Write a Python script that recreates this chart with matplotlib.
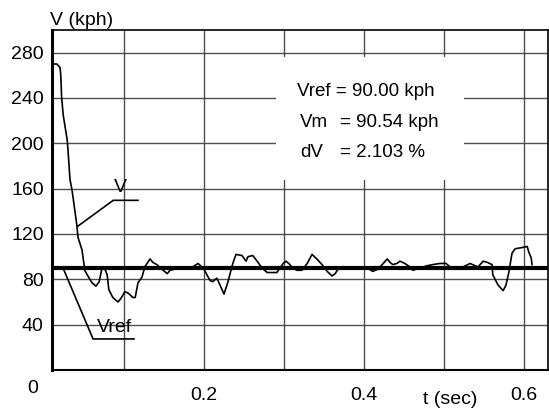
import matplotlib

matplotlib.use("Agg")
import matplotlib.pyplot as plt
from matplotlib.patches import Rectangle

plt.rcParams["font.family"] = ["Liberation Sans", "DejaVu Sans"]

# speed response V (kph) over time t (sec)
t = [0.010, 0.016, 0.020, 0.021, 0.022, 0.024, 0.029, 0.030, 0.0325, 0.035,
     0.041, 0.0425, 0.0475, 0.051, 0.054, 0.060, 0.065, 0.069, 0.0725, 0.075,
     0.079, 0.081, 0.086, 0.0925, 0.096, 0.101, 0.105, 0.111, 0.114, 0.1175,
     0.1225, 0.126, 0.1325, 0.136, 0.141, 0.149, 0.154, 0.1575, 0.170, 0.179,
     0.186, 0.1925, 0.199, 0.2075, 0.211, 0.216, 0.220, 0.225, 0.230, 0.236,
     0.240, 0.2475, 0.2525, 0.255, 0.261, 0.2675, 0.2725, 0.279, 0.291, 0.295,
     0.299, 0.3025, 0.306, 0.311, 0.316, 0.3225, 0.329, 0.335, 0.341, 0.3475,
     0.354, 0.360, 0.364, 0.3675, 0.379, 0.386, 0.395, 0.404, 0.411, 0.4175,
     0.424, 0.429, 0.4325, 0.436, 0.441, 0.445, 0.451, 0.4575, 0.461, 0.470,
     0.479, 0.486, 0.495, 0.5025, 0.5075, 0.516, 0.524, 0.5325, 0.539, 0.5425,
     0.549, 0.554, 0.560, 0.561, 0.5675, 0.574, 0.5775, 0.581, 0.585, 0.589,
     0.5975, 0.604, 0.606, 0.609, 0.610]
v = [270, 270, 267, 260, 241, 225, 203, 194, 168, 159,
     128, 117, 106, 88, 84, 77, 74, 78, 90, 91,
     84, 71, 64, 60, 63, 69, 68, 64, 64, 77,
     82, 91, 98, 95, 93, 88, 85, 88, 90, 90,
     91, 94, 90, 79, 78, 81, 75, 67, 78, 94,
     102, 101, 96, 100, 101, 95, 90, 86, 86, 90,
     94, 96, 94, 90, 88, 88, 94, 102, 98, 93,
     87, 83, 85, 89, 91, 91, 89, 90, 87, 89,
     94, 98, 95, 93, 94, 96, 94, 91, 88, 90,
     92, 93, 94, 94, 91, 89, 91, 94, 92, 91,
     96, 95, 93, 84, 75, 70, 75, 86, 103, 107,
     108, 109, 104, 99, 93]

v_ref = 90.0
v_m = 90.54
dv = 2.103

x_ticks = [0.2, 0.4, 0.6]
x_grid = [0.1, 0.2, 0.3, 0.4, 0.5, 0.6]
y_ticks = [40, 80, 120, 160, 200, 240, 280]

fig = plt.figure(figsize=(5.49, 4.12), dpi=100)
ax = fig.add_axes([52 / 549, 42 / 412, 496 / 549, 340 / 412])
ax.set_xlim(0.01, 0.63)
ax.set_ylim(0, 300)

# grid
for x in x_grid:
    ax.axvline(x, color="0.3", lw=1.0, zorder=1)
for y in y_ticks:
    ax.axhline(y, color="0.3", lw=1.0, zorder=1)

# white box behind the summary text
ax.add_patch(Rectangle((0.29, 168), 0.235, 108, facecolor="white",
                       edgecolor="none", zorder=2))

ax.axhline(v_ref, color="black", lw=3.0, zorder=3)
ax.plot(t, v, color="black", lw=1.2, zorder=4)

ax.set_xticks(x_ticks)
ax.set_xticklabels(["0.2", "0.4", "0.6"])
ax.set_yticks(y_ticks)
ax.tick_params(axis="both", length=0, labelsize=14)
ax.tick_params(axis="x", pad=12)
ax.tick_params(axis="y", pad=6)

ax.spines["left"].set_linewidth(2.2)
ax.spines["bottom"].set_linewidth(1.5)
ax.spines["top"].set_linewidth(1.2)
ax.spines["right"].set_linewidth(1.2)

# labels
ax.text(0.0075, 308, "V (kph)", fontsize=14, ha="left", va="center", clip_on=False)
ax.text(0.474, -26, "t (sec)", fontsize=14, ha="left", va="center", clip_on=False)
ax.text(-0.0138, -16, "0", fontsize=14, ha="center", va="center", clip_on=False)

# V and Vref pointers
ax.text(0.095, 161, "V", fontsize=14, ha="center", va="center", zorder=5)
ax.plot([0.0425, 0.0865, 0.1175], [127, 149.7, 149.7], color="black", lw=1.2, zorder=5)
ax.text(0.0875, 37.5, "Vref", fontsize=14, ha="center", va="center", zorder=5)
ax.plot([0.025, 0.0613, 0.1125], [88, 27.4, 27.4], color="black", lw=1.2, zorder=5)

# summary text
ax.text(0.316, 245.5, f"Vref = {v_ref:.2f} kph", fontsize=13.5, va="center", zorder=5)
ax.text(0.320, 218, "Vm", fontsize=13.5, va="center", zorder=5)
ax.text(0.3705, 218, f"= {v_m:.2f} kph", fontsize=13.5, va="center", zorder=5)
ax.text(0.320, 191.5, "dV", fontsize=13.5, va="center", zorder=5)
ax.text(0.3705, 191.5, f"= {dv:.3f} %", fontsize=13.5, va="center", zorder=5)

fig.savefig("out.png", dpi=100)
